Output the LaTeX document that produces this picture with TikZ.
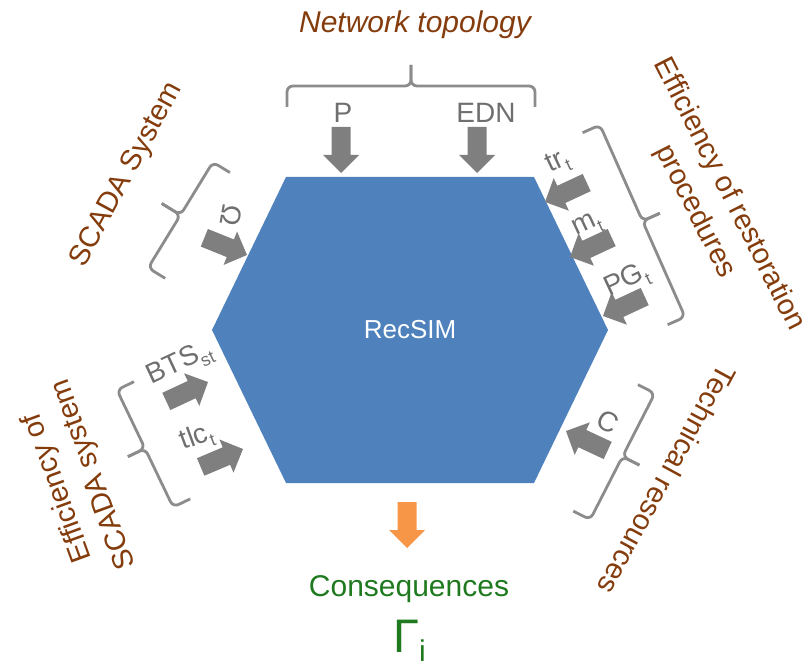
\documentclass[tikz,border=0pt]{standalone}
\usepackage{fontspec}
\setmainfont{Liberation Sans}
\definecolor{hexblue}{HTML}{4F81BD}
\definecolor{arrgray}{HTML}{7F7F7F}
\definecolor{brgray}{HTML}{8C8C8C}
\definecolor{brn}{HTML}{843C0C}
\definecolor{lblgray}{HTML}{6F6F6F}
\definecolor{orng}{HTML}{F79646}
\definecolor{grn}{HTML}{1F7A1F}
\newcommand\sbs[1]{\raisebox{-0.25em}{\fontsize{18}{18}\selectfont #1}}
\tikzset{
  pics/barrow/.style={code={
    \fill[pic actions] (0pt,0pt) -- (-18pt,18pt) -- (-18pt,9.5pt) -- (-46pt,9.5pt)
      -- (-46pt,-9.5pt) -- (-18pt,-9.5pt) -- (-18pt,-18pt) -- cycle;}},
  bracestyle/.style={draw=brgray, line width=2.8pt, rounded corners=6pt},
  pics/curly/.style n args={3}{code={
    \draw[bracestyle] (-#1pt,-#2pt) -- (-#1pt,0pt) -- (0pt,0pt) -- (0pt,#3pt);
    \draw[bracestyle] (#1pt,-#2pt) -- (#1pt,0pt) -- (0pt,0pt) -- (0pt,#3pt);}},
  brtext/.style={text=brn, inner sep=0pt, align=center, font=\fontsize{29}{38}\selectfont},
  lbl/.style={text=lblgray, inner sep=0pt, font=\fontsize{28}{28}\selectfont},
}
\begin{document}
\begin{tikzpicture}[x=1pt, y=-1pt]
\useasboundingbox (0,0) rectangle (809,663);
% hexagon
\fill[hexblue] (286,177) -- (534,177) -- (608,330) -- (534,483) -- (286,483) -- (212,330) -- cycle;
\node[text=white, inner sep=0pt, font=\fontsize{26}{26}\selectfont] (rec) at (410,330) {RecSIM};

% group texts
\node[brtext, font=\fontsize{30}{38}\selectfont\itshape] (nt) at (415,25) {Network topology};
\node[brtext, rotate=61.5] (scada) at (127,175) {SCADA System};
\node[brtext, rotate=-63] (effr) at (712,203) {Efficiency of restoration\\procedures};
\node[brtext, rotate=241.5] (tech) at (667,480) {Technical resources};
\node[brtext, rotate=110] (effs) at (76,481) {Efficiency of\\SCADA system};

% braces
\pic at (411,86) {curly={124}{21}{21}};
\pic[rotate=58.5] at (180.5,215) {curly={62}{20}{22}};
\pic[rotate=-66.1] at (642.5,221) {curly={105}{19}{19}};
\pic[rotate=-117.1] at (622.5,456.5) {curly={71}{19}{19}};
\pic[rotate=115.6] at (145,448.5) {curly={65}{19}{19}};

% arrows
\pic[rotate=-90, fill=arrgray] at (341,173) {barrow};
\pic[rotate=-90, fill=arrgray] at (477,173) {barrow};
\pic[rotate=-22, fill=arrgray] at (247,255) {barrow};
\pic[rotate=-155, fill=arrgray] at (545,202) {barrow};
\pic[rotate=-155, fill=arrgray] at (570,257) {barrow};
\pic[rotate=-155, fill=arrgray] at (603,316) {barrow};
\pic[rotate=155, fill=arrgray] at (566,431) {barrow};
\pic[rotate=25, fill=arrgray] at (208,382) {barrow};
\pic[rotate=23, fill=arrgray] at (243,449) {barrow};
\pic[rotate=-90, fill=orng] at (407,548) {barrow};

% labels
\node[lbl] (p) at (343,113) {P};
\node[lbl] (edn) at (486,113) {EDN};
\node[lbl, rotate=-100] (om) at (231,216) {Ω};
\node[lbl, rotate=25] (tr) at (558,163) {tr\sbs{t}};
\node[lbl, rotate=25] (mt) at (588,226) {m\sbs{t}};
\node[lbl, rotate=25] (pg) at (627,281) {PG\sbs{t}};
\node[lbl, rotate=-28] (c) at (608,422) {C};
\node[lbl, rotate=25] (bts) at (180,364) {BTS\sbs{st}};
\node[lbl, rotate=20] (tlc) at (197,438) {tlc\sbs{t}};

% consequences
\node[text=grn, inner sep=0pt, font=\fontsize{30}{30}\selectfont] (cons) at (409,589) {Consequences};
\node[text=grn, inner sep=0pt, anchor=base west] (gam) at (393,652)
  {{\fontsize{47}{47}\selectfont Γ}\raisebox{-9pt}{\fontsize{30}{30}\selectfont i}};
\end{tikzpicture}
\end{document}
